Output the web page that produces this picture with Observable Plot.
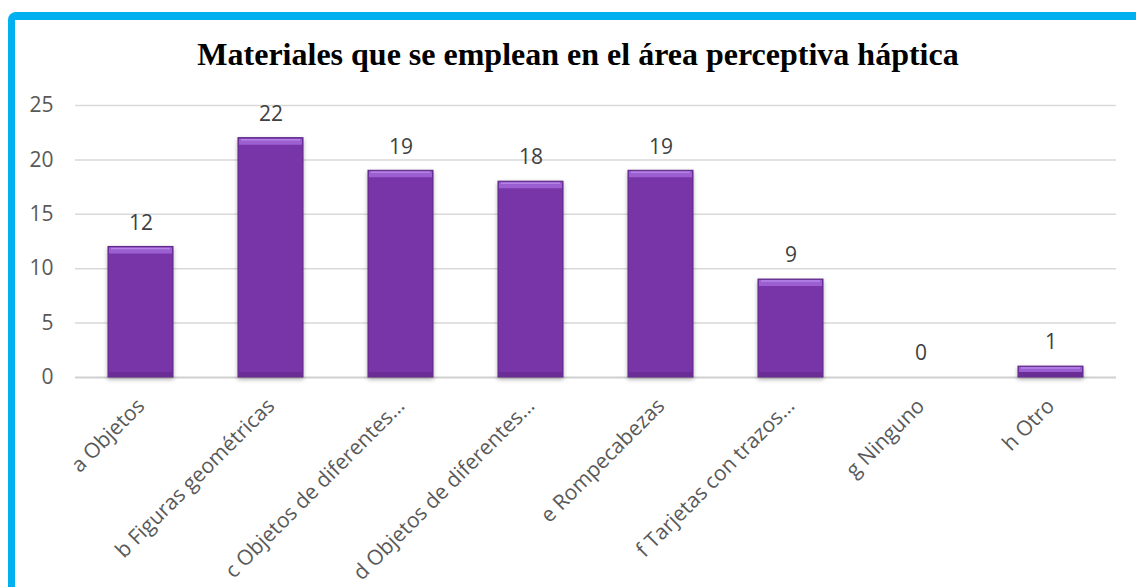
<!DOCTYPE html>
<html>
<head>
<meta charset="utf-8">
<script src="https://cdn.jsdelivr.net/npm/d3@7"></script>
<script src="https://cdn.jsdelivr.net/npm/@observablehq/plot@0.6"></script>
<style>
  html, body { margin: 0; padding: 0; background: #fff; width: 1136px; height: 587px; overflow: hidden; }
  #frame { position: absolute; left: 8px; top: 12px; width: 1300px; height: 800px;
           border-left: 7px solid #00B0F0; border-top: 8px solid #00B0F0; border-top-left-radius: 8px; box-sizing: border-box; }
  #title { position: absolute; left: 10px; top: 0; width: 1136px; height: 80px; text-align: center;
           font-family: "Liberation Serif", "Times New Roman", serif; font-weight: bold; font-size: 32px;
           line-height: 32px; padding-top: 38px; box-sizing: border-box; color: #000; }
  #chart { position: absolute; left: 0; top: 80px; }
  #chart svg g[aria-label="y-axis tick label"] text { font-size: 21px; }
</style>
</head>
<body>
<div id="frame"></div>
<div id="title">Materiales que se emplean en el área perceptiva háptica</div>
<div id="chart"></div>
<script>
const categories = [
  "a Objetos",
  "b Figuras geométricas",
  "c Objetos de diferentes…",
  "d Objetos de diferentes…",
  "e Rompecabezas",
  "f Tarjetas con trazos…",
  "g Ninguno",
  "h Otro"
];
const values = [12, 22, 19, 18, 19, 9, 0, 1];
const yTicks = [0, 5, 10, 15, 20, 25];

const data = categories.map((c, i) => ({cat: c, value: values[i]}));
const nonzero = data.filter(d => d.value > 0);

const chart = Plot.plot({
  width: 1136,
  height: 507,
  marginLeft: 75,
  marginRight: 20,
  marginTop: 25,
  marginBottom: 210,
  style: {fontFamily: "'Open Sans', sans-serif", fontSize: "21px", color: "#595959", background: "transparent"},
  x: {type: "band", domain: categories, paddingInner: 0.5, paddingOuter: 0.25, label: null, tickRotate: -45, tickSize: 0, tickPadding: 25},
  y: {domain: [0, 25], ticks: yTicks, label: null, tickSize: 0, tickPadding: 22},
  marks: [
    Plot.ruleY(yTicks.filter(t => t > 0), {stroke: "#D9D9D9", strokeWidth: 1.5}),
    Plot.ruleY([0], {stroke: "#D0D0D0", strokeWidth: 2}),
    Plot.barY(data, {x: "cat", y: "value", fill: "#7835A7", stroke: "#5C2785", strokeWidth: 1}),
    Plot.tickY(nonzero, {x: "cat", y: "value", stroke: "#9C5FD2", strokeWidth: 6, dy: 3.5, insetLeft: 1, insetRight: 1}),
    Plot.tickY(nonzero, {x: "cat", y: "value", stroke: "#B484E4", strokeWidth: 1.5, dy: 1.5, insetLeft: 3, insetRight: 3}),
    Plot.tickY(nonzero, {x: "cat", y: () => 0, stroke: "#6A2D96", strokeWidth: 5, dy: -3, insetLeft: 1, insetRight: 1}),
    Plot.text(data, {x: "cat", y: "value", text: d => String(d.value), dy: -24, fill: "#404040", fontSize: 21})
  ]
});
document.getElementById("chart").appendChild(chart);
const barG = chart.querySelector('g[aria-label="bar"]');
if (barG) barG.style.filter = "drop-shadow(0px 2px 2px rgba(0,0,0,0.3))";
</script>
</body>
</html>
